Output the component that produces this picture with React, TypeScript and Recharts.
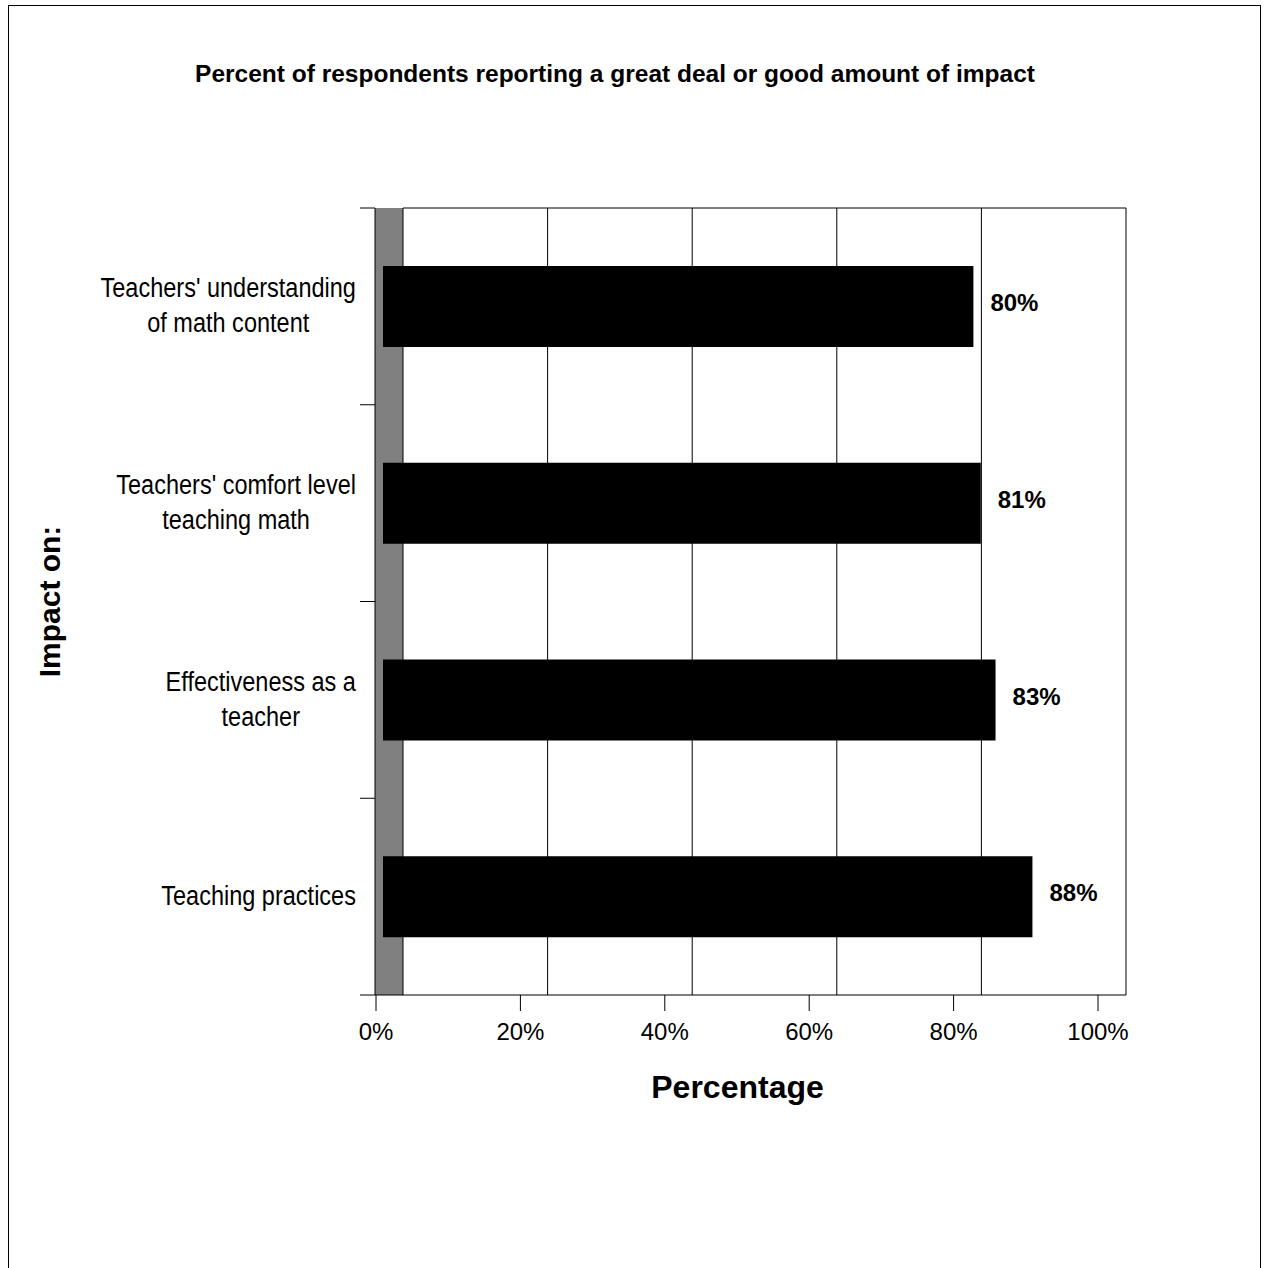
import { BarChart, Bar, XAxis, YAxis, ReferenceLine, ReferenceArea, LabelList } from "recharts"

const categories = [
  "Teachers' understanding\nof math content",
  "Teachers' comfort level\nteaching math",
  "Effectiveness as a\nteacher",
  "Teaching practices",
]
const percentages = [80, 81, 83, 88]
const axisTicks = [0, 20, 40, 60, 80, 100]

const data = categories.map((name, i) => ({ name, value: percentages[i] }))

const SANS = "'Liberation Sans', Arial, sans-serif"
// category labels are set in a condensed face; squeeze the regular one horizontally
const CONDENSE = 0.84
// depth of the grey side wall, in units of the frame axis
const WALL_DEPTH = 3.73
const CAT_TICK_MARGIN = 19
const CAT_TICK_LEN = 15

let measureCtx: CanvasRenderingContext2D | null = null
function textWidth(s: string, font: string) {
  if (!measureCtx) measureCtx = document.createElement("canvas").getContext("2d")
  if (!measureCtx) return s.length * 14
  measureCtx.font = font
  return measureCtx.measureText(s).width
}

// multi-line category label (lines centred on each other, block right-aligned),
// plus the tick marks that sit on the band edges
// eslint-disable-next-line @typescript-eslint/no-explicit-any
function CategoryTick({ x, y, payload, index, visibleTicksCount }: any) {
  const lines = String(payload.value).split("\n")
  const w = Math.max(...lines.map((l) => textWidth(l, `28px ${SANS}`)))
  const cx = x - w / 2
  const lh = 35
  const first = -((lines.length - 1) / 2) * lh + 8.5
  const half = payload.offset ?? 0
  const axisX = x + CAT_TICK_MARGIN
  const edges = [y - half]
  if (index === visibleTicksCount - 1) edges.push(y + half)
  return (
    <g>
      {edges.map((ey, i) => (
        <line key={i} x1={axisX - CAT_TICK_LEN} x2={axisX} y1={ey} y2={ey} stroke="#000" />
      ))}
      <g transform={`translate(${x} 0) scale(${CONDENSE} 1) translate(${-x} 0)`}>
        <text x={cx} y={y} textAnchor="middle" fontSize={28} fontFamily={SANS} fill="#000">
          {lines.map((l, i) => (
            <tspan key={i} x={cx} y={y + first + i * lh}>
              {l}
            </tspan>
          ))}
        </text>
      </g>
    </g>
  )
}

export default function App() {
  return (
    <div style={{ position: "absolute", left: 0, top: 0, width: 1267, height: 1268, overflow: "hidden", background: "#fff" }}>
      <div
        style={{
          position: "absolute",
          left: 8,
          top: 5,
          width: 1251,
          height: 1400,
          border: "1px solid #000",
        }}
      />
      <div
        style={{
          position: "absolute",
          left: 0,
          top: 61,
          width: 1230,
          textAlign: "center",
          fontFamily: SANS,
          fontWeight: "bold",
          fontSize: 24.5,
          lineHeight: "26px",
          color: "#000",
        }}
      >
        Percent of respondents reporting a great deal or good amount of impact
      </div>
      <div style={{ position: "absolute", left: 0, top: 0 }}>
        <BarChart
          width={1267}
          height={1268}
          data={data}
          layout="vertical"
          margin={{ top: 208, right: 141, bottom: 213, left: 0 }}
        >
          <XAxis
            xAxisId="tick"
            type="number"
            domain={[0, 100]}
            allowDataOverflow
            ticks={axisTicks}
            interval={0}
            tickFormatter={(v) => `${v}%`}
            padding={{ left: 1, right: 28 }}
            height={60}
            tickSize={16}
            tickMargin={12}
            axisLine={{ stroke: "#000" }}
            tickLine={{ stroke: "#000" }}
            tick={{ fill: "#000", fontSize: 24, fontFamily: SANS }}
            label={{
              value: "Percentage",
              position: "bottom",
              offset: 20,
              dx: -13,
              fill: "#000",
              fontSize: 32,
              fontWeight: "bold",
              fontFamily: SANS,
            }}
          />
          <XAxis xAxisId="bar" type="number" domain={[0, 100]} allowDataOverflow padding={{ left: 8, right: 5 }} height={0} hide />
          <XAxis xAxisId="grid" type="number" domain={[0, 100]} allowDataOverflow padding={{ left: 28, right: 0 }} height={0} hide />
          <XAxis xAxisId="frame" type="number" domain={[0, 100]} allowDataOverflow height={0} hide />
          <YAxis
            yAxisId="cat"
            type="category"
            dataKey="name"
            width={375}
            axisLine={{ stroke: "#000" }}
            tickLine={false}
            tickSize={0}
            tickMargin={CAT_TICK_MARGIN}
            interval={0}
            tick={<CategoryTick />}
            label={{
              value: "Impact on:",
              angle: -90,
              position: "insideLeft",
              offset: 49,
              fill: "#000",
              fontSize: 30,
              fontWeight: "bold",
              fontFamily: SANS,
              style: { textAnchor: "middle" },
            }}
          />
          <ReferenceArea
            xAxisId="frame"
            yAxisId="cat"
            x1={0}
            x2={WALL_DEPTH}
            fill="#808080"
            fillOpacity={1}
            stroke="none"
            ifOverflow="visible"
          />
          {axisTicks.map((t) => (
            <ReferenceLine key={t} xAxisId="grid" yAxisId="cat" x={t} stroke="#000" strokeWidth={1} />
          ))}
          <ReferenceLine
            xAxisId="grid"
            yAxisId="cat"
            position="start"
            ifOverflow="visible"
            segment={[
              { x: 0, y: categories[0] },
              { x: 100, y: categories[0] },
            ]}
            stroke="#000"
          />
          <Bar
            dataKey="value"
            xAxisId="bar"
            yAxisId="cat"
            fill="#000"
            barSize={81}
            isAnimationActive={false}
          >
            <LabelList
              dataKey="value"
              position="right"
              offset={17}
              dy={-4}
              formatter={(v: number) => `${v}%`}
              fill="#000"
              fontSize={24}
              fontWeight="bold"
              fontFamily={SANS}
            />
          </Bar>
        </BarChart>
      </div>
    </div>
  )
}
